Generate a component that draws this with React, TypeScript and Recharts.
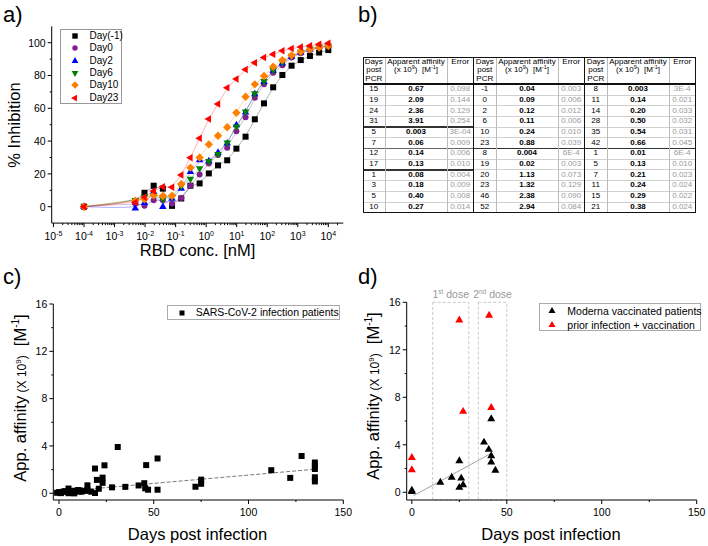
import React from 'react';
import { ComposedChart, Scatter, Line, XAxis, YAxis, ReferenceArea } from 'recharts';

const FONT = '"Liberation Sans", Arial, Helvetica, sans-serif';

// ---- a) % inhibition vs RBD concentration ----
const conc = [0.0001, 0.00477, 0.00954, 0.0191, 0.0381, 0.0763, 0.153, 0.305, 0.61, 1.22, 2.44, 4.88, 9.77, 19.5, 39.1, 78.1, 156, 312, 625, 1250, 2500, 5000, 10000];
const dayM1 = [0, 3, 8.5, 12.8, 11, 0.5, 5, 12.8, 14.2, 20.3, 25.2, 28.3, 35.4, 42.7, 53.3, 63, 72.8, 80.3, 86, 89.4, 91.9, 94, 95.5];
const day0 = [0, 2, 0.6, 4, 4, 2, 5.3, 12.8, 19.7, 26.4, 31.5, 36, 46, 54.5, 66.5, 74.6, 81.7, 86.2, 91, 93.5, 95.5, 97, 98];
const day2 = [0, -1, 2.4, 9, 0, 5, 11, 21.3, 28.5, 27.8, 33, 38.6, 49.8, 57.5, 68.7, 76.2, 83, 87.4, 91.5, 94, 96, 97.6, 98.6];
const day6 = [0, 4, 6, 7, 4.5, 6, 12.6, 16.9, 23.4, 27.8, 32, 39, 48.8, 58, 69, 76.6, 83.3, 88.2, 91.9, 94.3, 96.3, 97.6, 98.2];
const day10 = [0, 3.7, 4.5, 7, 6.5, 6.7, 13.8, 23.8, 30, 38, 43.3, 48.4, 57.3, 67, 74.6, 79.7, 85.4, 89.4, 92.3, 94.5, 96, 97, 98];
const day23 = [0, 2.6, 5.7, 9.6, 12.2, 11.8, 19.3, 29.9, 41.7, 53.5, 62.6, 72.6, 77.8, 83.7, 87.8, 90.9, 92.9, 95.1, 96.5, 97.4, 98.2, 99, 99.6];

// ---- b) table ----
const g1Days = ['15', '19', '24', '31', '5', '7', '12', '17', '1', '3', '5', '10'];
const g1Aff = ['0.67', '2.09', '2.36', '3.91', '0.003', '0.06', '0.14', '0.13', '0.08', '0.18', '0.40', '0.27'];
const g1Err = ['0.098', '0.144', '0.129', '0.254', '3E-04', '0.009', '0.006', '0.010', '0.004', '0.009', '0.008', '0.014'];
const g2Days = ['-1', '0', '2', '6', '10', '23', '8', '19', '20', '23', '46', '52'];
const g2Aff = ['0.04', '0.09', '0.12', '0.11', '0.24', '0.88', '0.004', '0.02', '1.13', '1.32', '2.38', '2.94'];
const g2Err = ['0.003', '0.006', '0.012', '0.006', '0.010', '0.039', '6E-4', '0.003', '0.073', '0.129', '0.090', '0.084'];
const g3Days = ['8', '11', '14', '28', '35', '42', '1', '5', '7', '11', '15', '21'];
const g3Aff = ['0.003', '0.14', '0.20', '0.50', '0.54', '0.66', '0.01', '0.13', '0.21', '0.24', '0.29', '0.38'];
const g3Err = ['3E-4', '0.021', '0.033', '0.032', '0.031', '0.045', '6E-4', '0.010', '0.023', '0.024', '0.022', '0.024'];

// ---- c) infection patients (table values + later time points) ----
const extraDays = [45, 45.5, 47, 52, 72, 75, 75, 112, 122, 128, 135, 135, 135, 135, 135];
const extraAff = [0.85, 0.42, 0.3, 0.3, 0.55, 1.15, 0.8, 1.95, 1.3, 3.15, 2.6, 2.3, 2.05, 1.35, 1.0];
const trendCDays = [0, 135];
const trendCAff = [0.13, 2.03];

// ---- d) vaccinated ----
const modernaDays = [0, 0, 15, 21, 25, 25, 26, 27, 38, 40.5, 41.8, 41.8, 41.8, 44];
const modernaAff = [0.05, 0.15, 0.84, 1.26, 2.64, 0.4, 1.18, 0.62, 4.21, 3.6, 3.06, 2.53, 6.18, 1.85];
const priorDays = [0, 0, 25, 27, 40.7, 41.8];
const priorAff = [2.92, 1.88, 14.5, 6.8, 14.9, 7.13];
const trendDDays = [1, 42];
const trendDAff = [-0.28, 3.3];
const doses = [
  { n: '1', sup: 'st', from: 11, to: 30 },
  { n: '2', sup: 'nd', from: 35, to: 50 },
];

type Kind = 'square' | 'circle' | 'up' | 'down' | 'left' | 'diamond';

function marker(kind: Kind, cx: number, cy: number, s: number, color: string) {
  if (kind === 'square') return <rect x={cx - s / 2} y={cy - s / 2} width={s} height={s} fill={color} />;
  if (kind === 'circle') return <circle cx={cx} cy={cy} r={s / 2} fill={color} />;
  let pts = '';
  if (kind === 'up') pts = `${cx},${cy - s * 0.58} ${cx - s / 2},${cy + s * 0.29} ${cx + s / 2},${cy + s * 0.29}`;
  if (kind === 'down') pts = `${cx},${cy + s * 0.58} ${cx - s / 2},${cy - s * 0.29} ${cx + s / 2},${cy - s * 0.29}`;
  if (kind === 'left') pts = `${cx - s * 0.58},${cy} ${cx + s * 0.29},${cy - s / 2} ${cx + s * 0.29},${cy + s / 2}`;
  if (kind === 'diamond') pts = `${cx},${cy - s * 0.6} ${cx + s * 0.6},${cy} ${cx},${cy + s * 0.6} ${cx - s * 0.6},${cy}`;
  return <polygon points={pts} fill={color} />;
}

const shapeOf = (kind: Kind, s: number, color: string) => (p: any) => marker(kind, p.cx, p.cy, s, color);

const seriesA = [
  { name: 'Day(-1)', vals: dayM1, color: '#000000', kind: 'square' as Kind, s: 6 },
  { name: 'Day0', vals: day0, color: '#80208C', kind: 'circle' as Kind, s: 6 },
  { name: 'Day2', vals: day2, color: '#0000FF', kind: 'up' as Kind, s: 7.5 },
  { name: 'Day6', vals: day6, color: '#008000', kind: 'down' as Kind, s: 7.5 },
  { name: 'Day10', vals: day10, color: '#FF8000', kind: 'diamond' as Kind, s: 7 },
  { name: 'Day23', vals: day23, color: '#FF0000', kind: 'left' as Kind, s: 7.5 },
];

const logTicks: number[] = [];
for (let e = -5; e <= 4; e++) {
  for (let m = 1; m <= 9; m++) {
    const v = m * Math.pow(10, e);
    if (v < 30000) logTicks.push(v);
  }
}

const LogTick = (props: any) => {
  const { x, y, payload } = props;
  const lg = Math.log10(payload.value);
  const e = Math.round(lg);
  const major = Math.abs(lg - e) < 1e-6;
  return (
    <g>
      <line x1={x} x2={x} y1={y} y2={y + (major ? 4 : 2)} stroke="#000" strokeWidth={1} />
      {major && (
        <text x={x} y={y + 17} textAnchor="middle" fontSize={10.5} fontFamily={FONT} fill="#000">
          10<tspan dy={-4.5} fontSize={7}>{e}</tspan>
        </text>
      )}
    </g>
  );
};

const makeXTick = (step: number) => (props: any) => {
  const { x, y, payload } = props;
  const major = Math.abs(payload.value % step) < 1e-9;
  return (
    <g>
      <line x1={x} x2={x} y1={y} y2={y + (major ? 4 : 2)} stroke="#000" strokeWidth={1} />
      {major && (
        <text x={x} y={y + 16} textAnchor="middle" fontSize={10.5} fontFamily={FONT} fill="#000">
          {payload.value}
        </text>
      )}
    </g>
  );
};

const makeYTick = (step: number) => (props: any) => {
  const { x, y, payload } = props;
  const major = Math.abs(payload.value % step) < 1e-9;
  return (
    <g>
      <line x1={x} x2={x - (major ? 4 : 2)} y1={y} y2={y} stroke="#000" strokeWidth={1} />
      {major && (
        <text x={x - 6} y={y + 3.8} textAnchor="end" fontSize={10.5} fontFamily={FONT} fill="#000">
          {payload.value}
        </text>
      )}
    </g>
  );
};

function VLabel({ cx, cy, children }: { cx: number; cy: number; children: React.ReactNode }) {
  return (
    <div
      style={{
        position: 'absolute',
        left: cx,
        top: cy,
        transform: 'translate(-50%, -50%) rotate(-90deg)',
        whiteSpace: 'nowrap',
        fontFamily: FONT,
        lineHeight: 1,
      }}
    >
      {children}
    </div>
  );
}

function HLabel({ cx, cy, size, children }: { cx: number; cy: number; size: number; children: React.ReactNode }) {
  return (
    <div
      style={{
        position: 'absolute',
        left: cx,
        top: cy,
        transform: 'translate(-50%, -50%)',
        whiteSpace: 'nowrap',
        fontFamily: FONT,
        fontSize: size,
        lineHeight: 1,
      }}
    >
      {children}
    </div>
  );
}

function AffinityLabel() {
  return (
    <>
      <span style={{ fontSize: 16.5 }}>App. affinity</span>
      <span style={{ fontSize: 12 }}>
        {' '}(X 10<span style={{ fontSize: 8, position: 'relative', top: -5 }}>9</span>)
      </span>
      <span style={{ fontSize: 16.5 }}>
        {'\u00a0\u00a0'}[M<span style={{ fontSize: 10, position: 'relative', top: -7 }}>-1</span>]
      </span>
    </>
  );
}

function LegendMark({ kind, color, s }: { kind: Kind; color: string; s: number }) {
  return (
    <svg width={10} height={10} style={{ position: 'absolute', left: -5, top: -5 }}>
      {marker(kind, 5, 5, s, color)}
    </svg>
  );
}

function PanelA() {
  return (
    <div style={{ position: 'absolute', left: 0, top: 0 }}>
      <ComposedChart width={350} height={260} margin={{ top: 26.3, right: 6.7, bottom: 0, left: 0 }}>
        <XAxis
          type="number"
          dataKey="x"
          scale="log"
          domain={[8.75e-6, 30900]}
          allowDataOverflow
          ticks={logTicks}
          interval={0}
          tick={LogTick}
          tickLine={false}
          tickSize={0}
          tickMargin={0}
          height={36.9}
          stroke="#000"
        />
        <YAxis
          type="number"
          dataKey="y"
          domain={[-10, 110]}
          allowDataOverflow
          ticks={[0, 10, 20, 30, 40, 50, 60, 70, 80, 90, 100]}
          interval={0}
          tick={makeYTick(20)}
          tickLine={false}
          tickSize={0}
          tickMargin={0}
          width={51.7}
          stroke="#000"
        />
        {seriesA.map((s) => (
          <Line
            key={'l' + s.name}
            data={conc.map((x, i) => ({ x, y: s.vals[i] }))}
            dataKey="y"
            type="basis"
            stroke={s.color}
            strokeOpacity={0.4}
            strokeWidth={0.8}
            dot={false}
            activeDot={false}
            isAnimationActive={false}
          />
        ))}
        {seriesA.map((s) => (
          <Scatter
            key={'s' + s.name}
            data={conc.map((x, i) => ({ x, y: s.vals[i] }))}
            dataKey="y"
            shape={shapeOf(s.kind, s.s, s.color)}
            isAnimationActive={false}
          />
        ))}
      </ComposedChart>
      <div
        style={{
          position: 'absolute',
          left: 60,
          top: 29,
          width: 62,
          height: 75,
          border: '1px solid #999',
          boxSizing: 'border-box',
          background: '#fff',
          fontFamily: FONT,
          fontSize: 10,
        }}
      >
        {seriesA.map((s, i) => (
          <div key={s.name} style={{ position: 'absolute', left: 0, top: 5.7 + i * 12.4, width: '100%' }}>
            <div style={{ position: 'absolute', left: 13.5, top: 0 }}>
              <LegendMark kind={s.kind} color={s.color} s={s.s * 0.9} />
            </div>
            <div style={{ position: 'absolute', left: 28.5, top: -6, lineHeight: '12px' }}>{s.name}</div>
          </div>
        ))}
      </div>
      <VLabel cx={14} cy={124.7}>
        <span style={{ fontSize: 16.5 }}>% Inhibition</span>
      </VLabel>
      <HLabel cx={197.5} cy={250} size={16.5}>
        RBD conc. [nM]
      </HLabel>
    </div>
  );
}

function PanelB() {
  const groups = [
    { days: g1Days, aff: g1Aff, err: g1Err, thick: [4, 8], thin: [6] },
    { days: g2Days, aff: g2Aff, err: g2Err, thick: [6], thin: [] as number[] },
    { days: g3Days, aff: g3Aff, err: g3Err, thick: [6], thin: [] as number[] },
  ];
  const colW = [22.5, 62, 26.5];
  const gW = 111;
  const headH = 27.5;
  const rowH = 10.7;
  const totalH = headH + rowH * 12;
  const cell = (left: number, top: number, w: number, text: string, style: React.CSSProperties, key: string) => (
    <div
      key={key}
      style={{ position: 'absolute', left, top, width: w, height: rowH, lineHeight: rowH + 'px', textAlign: 'center', ...style }}
    >
      {text}
    </div>
  );
  const hLine = (top: number, left: number, w: number, h: number, color: string, key: string) => (
    <div key={key} style={{ position: 'absolute', left, top: top - h / 2, width: w, height: h, background: color }} />
  );
  const vLine = (left: number, top: number, hgt: number, w: number, color: string, key: string) => (
    <div key={key} style={{ position: 'absolute', left: left - w / 2, top, width: w, height: hgt, background: color }} />
  );
  return (
    <div
      style={{
        position: 'absolute',
        left: 362.5,
        top: 56.7,
        width: gW * 3,
        height: totalH,
        fontFamily: FONT,
        fontSize: 8,
        color: '#000',
      }}
    >
      {groups.map((g, gi) => {
        const x0 = gi * gW;
        const els: React.ReactNode[] = [];
        // header
        els.push(
          <div key={'hd' + gi} style={{ position: 'absolute', left: x0, top: 1, width: colW[0], lineHeight: '8.7px', textAlign: 'center' }}>
            Days<br />post<br />PCR
          </div>
        );
        els.push(
          <div key={'ha' + gi} style={{ position: 'absolute', left: x0 + colW[0], top: 1, width: colW[1], lineHeight: '8.7px', textAlign: 'center' }}>
            Apparent affinity
            <br />
            (x 10<span style={{ fontSize: 5.5, position: 'relative', top: -3 }}>9</span>){'\u00a0\u00a0'}[M
            <span style={{ fontSize: 5.5, position: 'relative', top: -3 }}>-1</span>]
          </div>
        );
        els.push(
          <div key={'he' + gi} style={{ position: 'absolute', left: x0 + colW[0] + colW[1], top: 1, width: colW[2], lineHeight: '8.7px', textAlign: 'center' }}>
            Error
          </div>
        );
        g.days.forEach((d, r) => {
          const top = headH + r * rowH;
          els.push(cell(x0, top, colW[0], d, {}, `d${gi}-${r}`));
          els.push(cell(x0 + colW[0], top, colW[1], g.aff[r], { fontWeight: 700 }, `a${gi}-${r}`));
          els.push(cell(x0 + colW[0] + colW[1], top, colW[2], g.err[r], { color: '#9a9a9a' }, `e${gi}-${r}`));
          if (r > 0) {
            let color = '#d0d0d0';
            let h = 0.7;
            if (g.thick.includes(r)) {
              color = '#333';
              h = 1.6;
            } else if (g.thin.includes(r)) {
              color = '#666';
              h = 1;
            }
            els.push(hLine(top, x0, gW, h, color, `hl${gi}-${r}`));
          }
        });
        els.push(vLine(x0 + colW[0], 0, totalH, 0.7, '#bbb', `v1${gi}`));
        els.push(vLine(x0 + colW[0] + colW[1], 0, totalH, 0.7, '#bbb', `v2${gi}`));
        if (gi > 0) els.push(vLine(x0, 0, totalH, 1.6, '#111', `vg${gi}`));
        return els;
      })}
      {hLine(headH, 0, gW * 3, 1.6, '#111', 'hh')}
      <div style={{ position: 'absolute', left: 0, top: 0, width: gW * 3, height: totalH, border: '1.3px solid #111', boxSizing: 'border-box' }} />
    </div>
  );
}

function PanelC() {
  const pts = [
    ...g1Days.map((d, i) => ({ x: Number(d), y: Number(g1Aff[i]) })),
    ...g2Days.map((d, i) => ({ x: Number(d), y: Number(g2Aff[i]) })),
    ...g3Days.map((d, i) => ({ x: Number(d), y: Number(g3Aff[i]) })),
    ...extraDays.map((d, i) => ({ x: d, y: extraAff[i] })),
  ];
  const trend = trendCDays.map((x, i) => ({ x, y: trendCAff[i] }));
  return (
    <div style={{ position: 'absolute', left: 0, top: 280 }}>
      <ComposedChart width={365} height={266} margin={{ top: 24, right: 21.7, bottom: 0, left: 0 }}>
        <XAxis
          type="number"
          dataKey="x"
          domain={[-3, 150]}
          allowDataOverflow
          ticks={[0, 25, 50, 75, 100, 125, 150]}
          interval={0}
          tick={makeXTick(50)}
          tickLine={false}
          tickSize={0}
          tickMargin={0}
          height={46}
          stroke="#000"
        />
        <YAxis
          type="number"
          dataKey="y"
          domain={[-0.57, 16]}
          allowDataOverflow
          ticks={[0, 2, 4, 6, 8, 10, 12, 14, 16]}
          interval={0}
          tick={makeYTick(4)}
          tickLine={false}
          tickSize={0}
          tickMargin={0}
          width={53.3}
          stroke="#000"
        />
        <Line
          data={trend}
          dataKey="y"
          type="linear"
          stroke="#555"
          strokeWidth={0.8}
          strokeDasharray="4 2"
          dot={false}
          activeDot={false}
          isAnimationActive={false}
        />
        <Scatter data={pts} dataKey="y" shape={shapeOf('square', 6, '#000')} isAnimationActive={false} />
      </ComposedChart>
      <div
        style={{
          position: 'absolute',
          left: 166.7,
          top: 25,
          width: 173.3,
          height: 14.5,
          border: '1px solid #aaa',
          boxSizing: 'border-box',
          background: '#fff',
          fontFamily: FONT,
          fontSize: 10.5,
        }}
      >
        <div style={{ position: 'absolute', left: 14.3, top: 6.5 }}>
          <LegendMark kind="square" color="#000" s={5} />
        </div>
        <div style={{ position: 'absolute', left: 28, top: 0, lineHeight: '12.5px', whiteSpace: 'nowrap' }}>
          SARS-CoV-2 infection patients
        </div>
      </div>
      <VLabel cx={20} cy={118}>
        <AffinityLabel />
      </VLabel>
      <HLabel cx={197.5} cy={253.5} size={16.5}>
        Days post infection
      </HLabel>
    </div>
  );
}

function DoseLabel(props: any, n: string, sup: string) {
  const vb = props.viewBox || {};
  const cx = (vb.x ?? 0) + (vb.width ?? 0) / 2;
  const y = (vb.y ?? 0) - 4;
  return (
    <text x={cx} y={y} textAnchor="middle" fontSize={10.5} fontFamily={FONT} fill="#999">
      {n}
      <tspan dy={-4} fontSize={6.5}>
        {sup}
      </tspan>
      <tspan dy={4}> dose</tspan>
    </text>
  );
}

function PanelD() {
  const mod = modernaDays.map((x, i) => ({ x, y: modernaAff[i] }));
  const prior = priorDays.map((x, i) => ({ x, y: priorAff[i] }));
  const trend = trendDDays.map((x, i) => ({ x, y: trendDAff[i] }));
  return (
    <div style={{ position: 'absolute', left: 355, top: 280 }}>
      <ComposedChart width={353} height={266} margin={{ top: 22.3, right: 11.3, bottom: 0, left: 0 }}>
        <XAxis
          type="number"
          dataKey="x"
          domain={[-2.7, 150]}
          allowDataOverflow
          ticks={[0, 25, 50, 75, 100, 125, 150]}
          interval={0}
          tick={makeXTick(50)}
          tickLine={false}
          tickSize={0}
          tickMargin={0}
          height={46}
          stroke="#000"
        />
        <YAxis
          type="number"
          dataKey="y"
          domain={[-0.65, 16]}
          allowDataOverflow
          ticks={[0, 2, 4, 6, 8, 10, 12, 14, 16]}
          interval={0}
          tick={makeYTick(4)}
          tickLine={false}
          tickSize={0}
          tickMargin={0}
          width={51.7}
          stroke="#000"
        />
        {doses.map((d) => (
          <ReferenceArea
            key={d.n}
            x1={d.from}
            x2={d.to}
            y1={-0.65}
            y2={16}
            fill="none"
            fillOpacity={0}
            stroke="#bbb"
            strokeDasharray="3 2"
            strokeWidth={0.8}
            ifOverflow="visible"
            label={(p: any) => DoseLabel(p, d.n, d.sup)}
          />
        ))}
        <Line
          data={trend}
          dataKey="y"
          type="linear"
          stroke="#999"
          strokeWidth={0.9}
          dot={false}
          activeDot={false}
          isAnimationActive={false}
        />
        <Scatter data={mod} dataKey="y" shape={shapeOf('up', 8, '#000')} isAnimationActive={false} />
        <Scatter data={prior} dataKey="y" shape={shapeOf('up', 8, '#FF0000')} isAnimationActive={false} />
      </ComposedChart>
      <div
        style={{
          position: 'absolute',
          left: 184.3,
          top: 23.3,
          width: 161.4,
          height: 27.7,
          border: '1px solid #aaa',
          boxSizing: 'border-box',
          background: '#fff',
          fontFamily: FONT,
          fontSize: 10.5,
        }}
      >
        <div style={{ position: 'absolute', left: 11.4, top: 7.2 }}>
          <LegendMark kind="up" color="#000" s={7} />
        </div>
        <div style={{ position: 'absolute', left: 27, top: 1, lineHeight: '12.5px', whiteSpace: 'nowrap' }}>
          Moderna vaccinated patients
        </div>
        <div style={{ position: 'absolute', left: 11.4, top: 21 }}>
          <LegendMark kind="up" color="#FF0000" s={7} />
        </div>
        <div style={{ position: 'absolute', left: 27, top: 14.8, lineHeight: '12.5px', whiteSpace: 'nowrap' }}>
          prior infection + vaccination
        </div>
      </div>
      <VLabel cx={18} cy={116}>
        <AffinityLabel />
      </VLabel>
      <HLabel cx={196} cy={253.5} size={16.5}>
        Days post infection
      </HLabel>
    </div>
  );
}

function Letter({ x, y, t }: { x: number; y: number; t: string }) {
  return (
    <div style={{ position: 'absolute', left: x, top: y, fontFamily: FONT, fontSize: 22, lineHeight: 1 }}>{t}</div>
  );
}

export default function App() {
  return (
    <div
      style={{
        position: 'absolute',
        left: 0,
        top: 0,
        width: 708,
        height: 546,
        background: '#fff',
        overflow: 'hidden',
      }}
    >
      <PanelA />
      <PanelB />
      <PanelC />
      <PanelD />
      <Letter x={3} y={4} t="a)" />
      <Letter x={358} y={4} t="b)" />
      <Letter x={3} y={266} t="c)" />
      <Letter x={358} y={266} t="d)" />
    </div>
  );
}
